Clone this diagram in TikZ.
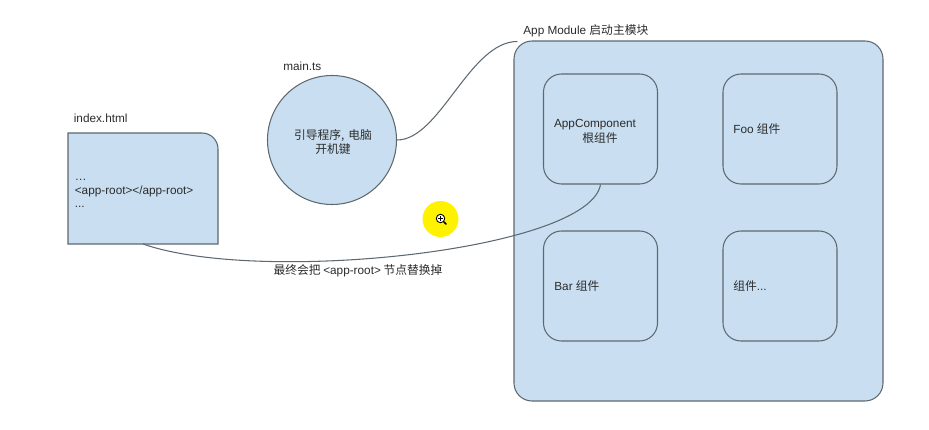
\documentclass[tikz,border=0pt]{standalone}
\usepackage{fontspec}
\setmainfont{Liberation Sans}
\newfontfamily\cjk{Noto Sans CJK SC}
\usetikzlibrary{arrows.meta}
\usetikzlibrary{shapes.geometric}
\definecolor{boxblue}{HTML}{C9DFF1}
\definecolor{edgegray}{HTML}{5E6870}
\definecolor{inkgray}{HTML}{2B2B2B}
\tikzset{
  module/.style = {draw=edgegray, fill=boxblue, line width=0.6pt, rounded corners=0.36cm, minimum width=7.38cm, minimum height=7.2cm},
  comp/.style = {draw=edgegray, line width=0.6pt, rounded corners=0.36cm, minimum width=2.28cm, minimum height=2.2cm},
  label/.style = {text=inkgray, inner sep=0pt, font=\fontsize{6.7}{7.7}\selectfont, align=center},
  wire/.style = {draw=edgegray, line width=0.6pt}
}

\begin{document}
\begin{tikzpicture}
    \useasboundingbox (0, 0) rectangle (18.58, 8.6);
    % Nodes

    \coordinate (indexsw) at (1.36, 3.72);
    \coordinate (indexnw) at (1.36, 5.94);
    \coordinate (indexne) at (4.36, 5.94);
    \coordinate (indexse) at (4.36, 3.72);
    \coordinate (indexs) at (2.86, 3.72);
    \draw[wire, fill=boxblue, rounded corners=0.32cm] (indexsw) [sharp corners] -- (indexnw) [rounded corners=0.32cm] -- (indexne) [sharp corners] -- (indexse) -- cycle;
    \node[label, anchor=west, align=left] (indextext) at (1.49, 4.73) {…\\\textless app-root\textgreater\textless/app-root\textgreater\\...};
    \node[label, anchor=west] (indextitle) at (1.47, 6.23) {index.html};

    \node[circle, draw=edgegray, fill=boxblue, line width=0.6pt, minimum size=2.58cm, inner sep=0pt] (boot) at (6.64, 5.8) {};
    \node[label, text width=2cm] (boottext) at (6.66, 5.76) {\cjk 引导程序, 电脑\\开机键};
    \node[label, anchor=west] (boottitle) at (5.66, 7.27) {main.ts};

    \node[module] (appmodule) at (13.97, 4.18) {};
    \node[label, anchor=west] (moduletitle) at (10.46, 7.98) {App Module {\cjk 启动主模块}};

    \node[comp] (root) at (12.01, 6.02) {};
    \node[comp] (foo) at (15.6, 6.02) {};
    \node[comp] (bar) at (12.01, 2.88) {};
    \node[comp] (other) at (15.6, 2.88) {};

    \node[label] (roottext) at (11.9, 5.97) {AppComponent\\[0.5pt]\hspace*{0.2cm}{\cjk 根组件}};
    \node[label, anchor=west] (footext) at (14.66, 6.02) {Foo {\cjk 组件}};
    \node[label, anchor=west] (bartext) at (11.08, 2.88) {Bar {\cjk 组件}};
    \node[label, anchor=west] (othertext) at (14.66, 2.88) {{\cjk 组件}...};

    \node[label] (replacetext) at (7.16, 3.18) {\cjk 最终会把 {\rmfamily\textless app-root\textgreater} 节点替换掉};

    \node[circle, fill=yellow, minimum size=0.72cm, inner sep=0pt] (pointer) at (8.81, 4.22) {};
    \node[circle, draw=black, fill=white, line width=0.5pt, minimum size=0.17cm, inner sep=0pt] (lens) at (8.81, 4.23) {};

    % Edges
    \draw[wire] (boot.east) .. controls +(0.86, 0) and +(-0.96, 0) .. ([xshift=0.08cm, yshift=-0.02cm]appmodule.north west);
    \draw[wire] (indexs) .. controls +(2.34, -0.82) and +(-0.22, -1.32) .. (root.south);
    \draw[black, line width=0.9pt, line cap=round] (lens) -- ++(0.11, -0.11);
    \draw[black, line width=0.4pt] ([xshift=-0.05cm]lens.center) -- ([xshift=0.05cm]lens.center);
    \draw[black, line width=0.4pt] ([yshift=-0.05cm]lens.center) -- ([yshift=0.05cm]lens.center);
\end{tikzpicture}
\end{document}
